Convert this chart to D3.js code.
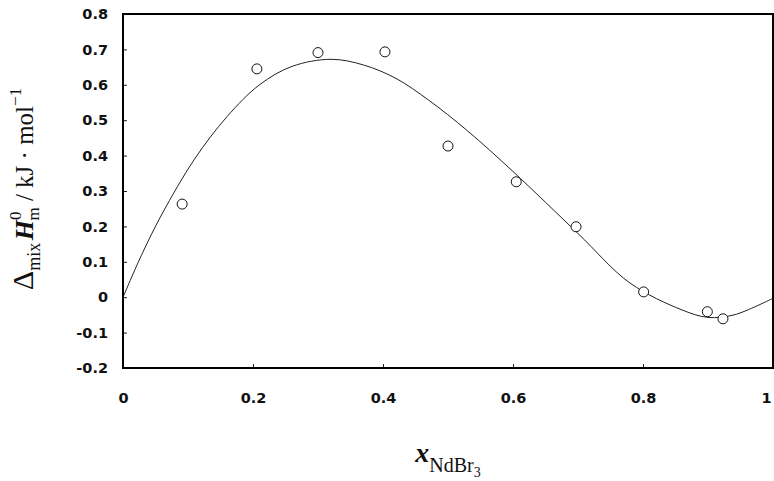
<!DOCTYPE html>
<html>
<head>
<meta charset="utf-8">
<script src="https://cdn.jsdelivr.net/npm/d3@7"></script>
<style>
  body { margin: 0; background: #fff; }
  svg { display: block; }
</style>
</head>
<body>
<div id="chart"></div>
<script>
// measured points
const pointsX = [0.091, 0.206, 0.300, 0.403, 0.500, 0.605, 0.697, 0.801, 0.899, 0.923];
const pointsY = [0.263, 0.645, 0.691, 0.693, 0.427, 0.326, 0.199, 0.015, -0.041, -0.061];

// fitted curve
const curveX = [0, 0.03, 0.06, 0.11, 0.16, 0.21, 0.26, 0.32, 0.37, 0.42, 0.47, 0.53, 0.60, 0.70, 0.78, 0.86, 0.90, 0.94, 1.0];
const curveY = [0, 0.125, 0.235, 0.39, 0.51, 0.60, 0.652, 0.672, 0.656, 0.618, 0.557, 0.47, 0.355, 0.18, 0.04, -0.036, -0.057, -0.050, -0.003];

const xTickVals = [0, 0.2, 0.4, 0.6, 0.8, 1];
const xTickLabels = ["0", "0.2", "0.4", "0.6", "0.8", "1"];
const yTickVals = [0.8, 0.7, 0.6, 0.5, 0.4, 0.3, 0.2, 0.1, 0, -0.1, -0.2];
const yTickLabels = ["0.8", "0.7", "0.6", "0.5", "0.4", "0.3", "0.2", "0.1", "0", "-0.1", "-0.2"];

const W = 774, H = 481;
const margin = { top: 14, left: 123, right: 1, bottom: 113 };
const width = W - margin.left - margin.right;
const height = H - margin.top - margin.bottom;

const svg = d3.select("#chart").append("svg")
  .attr("width", W)
  .attr("height", H);

const g = svg.append("g")
  .attr("transform", `translate(${margin.left}, ${margin.top})`);

const x = d3.scaleLinear().domain([0, 1]).range([0, width]);
const y = d3.scaleLinear().domain([-0.2, 0.8]).range([height, 0]);

const tickFont = "'DejaVu Sans', sans-serif";

const xAxis = g.append("g")
  .attr("transform", `translate(0, ${height})`)
  .call(d3.axisBottom(x)
    .tickValues(xTickVals)
    .tickFormat((d, i) => xTickLabels[i])
    .tickSizeInner(-4)
    .tickSizeOuter(0)
    .tickPadding(25));

const yAxis = g.append("g")
  .call(d3.axisLeft(y)
    .tickValues(yTickVals)
    .tickFormat((d, i) => yTickLabels[i])
    .tickSizeInner(-4)
    .tickSizeOuter(0)
    .tickPadding(15));

[xAxis, yAxis].forEach(a => {
  a.select(".domain").remove();
  a.selectAll("line").attr("stroke", "#222").attr("stroke-width", 1);
  a.selectAll("text")
    .style("font-family", tickFont)
    .style("font-weight", "bold")
    .style("font-size", "14.5px")
    .attr("fill", "#111");
});

// last x label sits on the right edge, keep it inside
xAxis.selectAll(".tick text")
  .filter(d => d === 1)
  .attr("text-anchor", "end")
  .attr("dx", -2);

// curve
const line = d3.line()
  .x(d => x(d[0]))
  .y(d => y(d[1]))
  .curve(d3.curveCatmullRom.alpha(0.5));

g.append("path")
  .datum(curveX.map((v, i) => [v, curveY[i]]))
  .attr("fill", "none")
  .attr("stroke", "#222")
  .attr("stroke-width", 1)
  .attr("d", line);

// frame
g.append("rect")
  .attr("x", 0).attr("y", 0)
  .attr("width", width).attr("height", height)
  .attr("fill", "none")
  .attr("stroke", "#000")
  .attr("stroke-width", 2);

// points
g.selectAll(".pt")
  .data(pointsX.map((v, i) => [v, pointsY[i]]))
  .enter().append("circle")
  .attr("class", "pt")
  .attr("cx", d => x(d[0]))
  .attr("cy", d => y(d[1]))
  .attr("r", 5)
  .attr("fill", "#fff")
  .attr("stroke", "#111")
  .attr("stroke-width", 1);

// axis titles
const serif = "'Liberation Serif', 'Times New Roman', serif";

const xt = svg.append("text")
  .attr("x", margin.left + width / 2)
  .attr("y", 462)
  .attr("text-anchor", "middle")
  .style("font-family", serif)
  .attr("fill", "#111");
xt.append("tspan").text("x")
  .style("font-size", "28px").style("font-weight", "bold").style("font-style", "italic");
xt.append("tspan").text("NdBr").attr("dy", 10).style("font-size", "20px");
xt.append("tspan").text("3").attr("dy", 5).style("font-size", "14px");

const yt = svg.append("text")
  .attr("transform", "translate(33, 189) rotate(-90)")
  .attr("text-anchor", "middle")
  .style("font-family", serif)
  .attr("fill", "#111");
yt.append("tspan").text("\u0394").style("font-size", "30px");
yt.append("tspan").text("mix").attr("dy", 7).style("font-size", "18px");
yt.append("tspan").text(" ").style("font-size", "10px");
yt.append("tspan").text("H").attr("dy", -7)
  .style("font-size", "26px").style("font-weight", "bold").style("font-style", "italic");
yt.append("tspan").text("0").attr("dy", -12).style("font-size", "17px");
yt.append("tspan").text("m").attr("dx", -9).attr("dy", 18).style("font-size", "17px");
yt.append("tspan").text(" / kJ \u00b7 mol").attr("dy", -6).style("font-size", "25px");
yt.append("tspan").text("\u22121").attr("dy", -12).style("font-size", "17px");
</script>
</body>
</html>
